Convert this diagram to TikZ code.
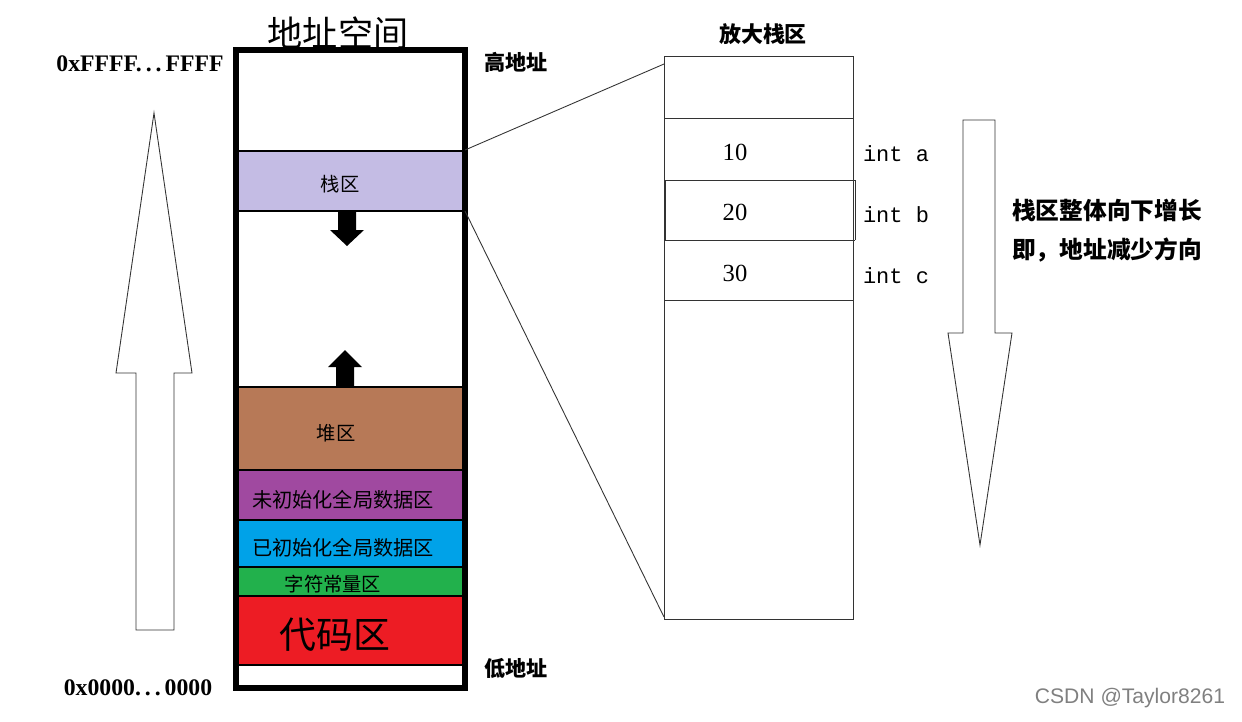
\documentclass[tikz,border=0pt]{standalone}
\usepackage{fontspec}
\setmainfont{Liberation Serif}
\setmonofont{Liberation Mono}
\setsansfont{Liberation Sans}
\newfontfamily\cjk{Noto Sans CJK SC}
\begin{document}
\begin{tikzpicture}[x=0.02cm,y=-0.02cm,
  seg/.style={draw=black,line width=0.6pt},
  lbl/.style={font=\cjk\fontsize{11}{11}\selectfont},
  bl/.style={font=\bfseries\fontsize{13.5}{13.5}\selectfont},
  thin/.style={draw=black!80,line width=0.5pt}]
\useasboundingbox (0,0) rectangle (1242,721);
\definecolor{cStack}{RGB}{196,188,228}
\definecolor{cHeap}{RGB}{183,121,87}
\definecolor{cBss}{RGB}{160,73,160}
\definecolor{cData}{RGB}{0,162,232}
\definecolor{cRo}{RGB}{34,177,76}
\definecolor{cCode}{RGB}{237,28,36}
% regions
\fill[cStack] (237,151) rectangle (465,211);
\draw[seg] (237,151) -- (465,151) (237,211) -- (465,211);
\fill[cHeap] (237,387) rectangle (468,470);
\fill[cBss] (237,470) rectangle (465,520);
\fill[cData] (237,520) rectangle (465,567);
\fill[cRo] (237,567) rectangle (465,596);
\fill[cCode] (237,596) rectangle (465,665);
\draw[seg] (237,387)--(468,387) (237,470)--(468,470) (237,520)--(465,520) (237,567)--(465,567) (237,596)--(465,596) (237,665)--(465,665);
\node[lbl] (stack) at (340,184) {栈区};
\node[lbl] (heap) at (336,433) {堆区};
\node[lbl,font=\cjk\fontsize{11.5}{11.5}\selectfont] (bss) at (343,500) {未初始化全局数据区};
\node[lbl,font=\cjk\fontsize{11.5}{11.5}\selectfont] (data) at (343,548) {已初始化全局数据区};
\node[lbl,font=\cjk\fontsize{11}{11}\selectfont] (ro) at (333,584) {字符常量区};
\node[lbl,font=\cjk\fontsize{21}{21}\selectfont] (code) at (335,635) {代码区};
% outer box
\draw[line width=3.5pt] (236,50) rectangle (465,688);
\node[font=\cjk\fontsize{20}{20}\selectfont] (title) at (338,33) {地址空间};
% small arrows
\fill (338,211) -- (356,211) -- (356,230) -- (364,230) -- (347,246) -- (330,230) -- (338,230) -- cycle;
\fill (336,386) -- (354,386) -- (354,367) -- (362,367) -- (345,350) -- (328,367) -- (336,367) -- cycle;
% left labels
\node[bl] (hi) at (140,64) {0xFFFF.\,.\,.\,FFFF};
\node[bl] (lo) at (138,688) {0x0000.\,.\,.\,0000};
\node[lbl,font=\cjk\bfseries\fontsize{12}{12}\selectfont] (hiA) at (516,62) {高地址};
\node[lbl,font=\cjk\bfseries\fontsize{12}{12}\selectfont] (loA) at (516,668) {低地址};
% big up arrow
\draw[thin] (136,630) -- (136,373) -- (116,373) -- (154,113) -- (192,373) -- (174,373) -- (174,630) -- cycle;
% zoom box
\node[lbl,font=\cjk\bfseries\fontsize{12.5}{12.5}\selectfont] (zt) at (763,34) {放大栈区};
\draw[thin] (664,56) rectangle (853,619);
\draw[thin] (664,118)--(853,118) (664,180)--(855,180) (664,240)--(855,240) (664,300)--(853,300);
\draw[thin] (665,180)--(665,240) (855,180)--(855,240);
\coordinate (zA) at (664,64);
\coordinate (zB) at (664,617);
\draw[thin] (465,150) -- (zA);
\draw[thin] (465,211) -- (zB);
\node[font=\fontsize{14}{14}\selectfont] (v1) at (735,152) {10};
\node[font=\fontsize{14}{14}\selectfont] (v2) at (735,212) {20};
\node[font=\fontsize{14}{14}\selectfont] (v3) at (735,273) {30};
\node[font=\ttfamily\fontsize{12.5}{12.5}\selectfont] (ia) at (896,154) {int a};
\node[font=\ttfamily\fontsize{12.5}{12.5}\selectfont] (ib) at (896,215) {int b};
\node[font=\ttfamily\fontsize{12.5}{12.5}\selectfont] (ic) at (896,276) {int c};
% right down arrow
\draw[thin] (963,120) -- (995,120) -- (995,333) -- (1012,333) -- (980,545) -- (948,333) -- (963,333) -- cycle;
\node[font=\cjk\bfseries\fontsize{13.5}{13.5}\selectfont] (t1) at (1107,210) {栈区整体向下增长};
\node[font=\cjk\bfseries\fontsize{13.5}{13.5}\selectfont] (t2) at (1107,250) {即，地址减少方向};
\node[font=\sffamily\fontsize{12}{12}\selectfont,text=black!50] (wm) at (1130,698) {CSDN @Taylor8261};
\end{tikzpicture}
\end{document}
